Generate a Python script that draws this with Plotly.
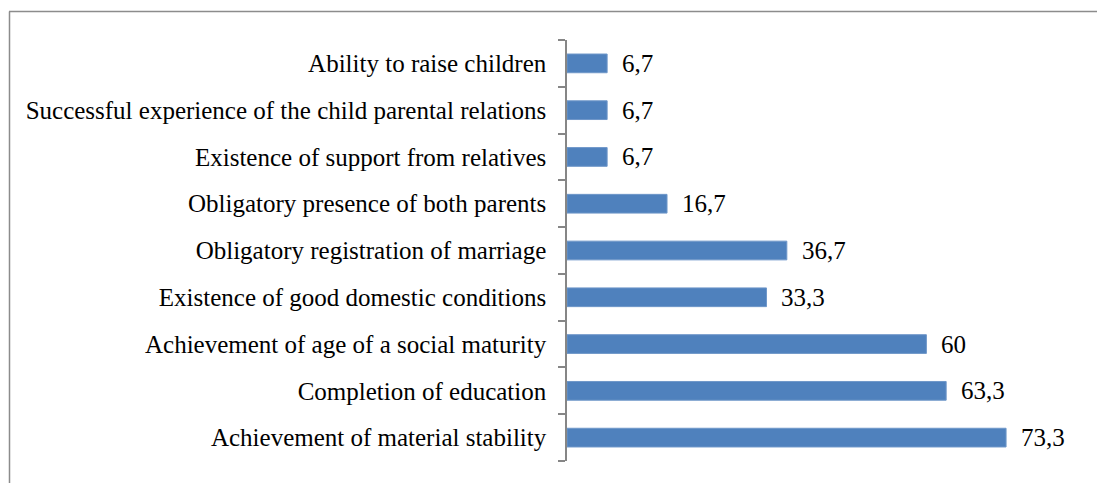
import plotly.graph_objects as go

# Data (bottom to top)
categories = [
    "Achievement of material stability",
    "Completion of education",
    "Achievement of age of a social maturity",
    "Existence of good domestic conditions",
    "Obligatory registration of marriage",
    "Obligatory presence of both parents",
    "Existence of support from relatives",
    "Successful experience of the child parental relations",
    "Ability to raise children",
]
values = [73.3, 63.3, 60, 33.3, 36.7, 16.7, 6.7, 6.7, 6.7]
value_labels = ["73,3", "63,3", "60", "33,3", "36,7", "16,7", "6,7", "6,7", "6,7"]

W, H = 1105, 483
OFF = 8  # page body offset
ML, MT = 567 - OFF, 40 - OFF
MB = H - (461 - OFF)
MR = 37
PW = W - ML - MR
PH = H - MT - MB
FONT = "Liberation Serif, Times New Roman, serif"
FS = 25

fig = go.Figure()
fig.add_trace(go.Bar(
    x=values, y=categories, orientation="h",
    marker=dict(color="#4F81BD", line=dict(color="#6F97C9", width=1)),
    hoverinfo="skip",
))

annotations = []
for v, c, t in zip(values, categories, value_labels):
    annotations.append(dict(x=v, y=c, xref="x", yref="y", text=t, showarrow=False,
                            xanchor="left", yanchor="middle", xshift=13,
                            font=dict(family=FONT, size=FS, color="black")))

def fx(x):
    return (x - OFF - ML) / PW

def fy(y):
    return (H - MB - (y - OFF)) / PH

frame_color = "#8c8c8c"
shapes = [
    dict(type="line", xref="paper", yref="paper",
         x0=fx(9), x1=fx(W + 20), y0=fy(11.5), y1=fy(11.5),
         line=dict(color=frame_color, width=1.5)),
    dict(type="line", xref="paper", yref="paper",
         x0=fx(9.5), x1=fx(9.5), y0=fy(11.5), y1=fy(H + 20),
         line=dict(color=frame_color, width=1.5)),
]

fig.update_layout(
    width=W, height=H,
    margin=dict(l=ML, r=MR, t=MT, b=MB, pad=0),
    paper_bgcolor="white", plot_bgcolor="white",
    bargap=0.6,
    showlegend=False,
    font=dict(family=FONT, size=FS, color="black"),
    annotations=annotations,
    shapes=shapes,
    xaxis=dict(range=[0, PW / 5.99], visible=False, fixedrange=True),
    yaxis=dict(
        type="category", categoryorder="array", categoryarray=categories,
        showline=True, linecolor="#868686", linewidth=1.5,
        ticks="outside", tickson="boundaries", ticklen=7, tickcolor="#868686", tickwidth=1.5,
        ticklabelstandoff=14,
        showgrid=False, zeroline=False, fixedrange=True,
        tickfont=dict(family=FONT, size=FS, color="black"),
    ),
)

fig.write_html("out.html")
